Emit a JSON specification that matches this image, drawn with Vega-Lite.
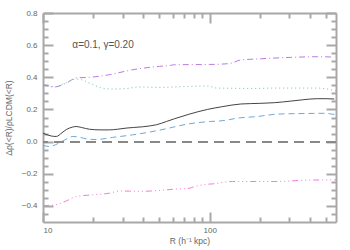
{
  "$schema": "https://vega.github.io/schema/vega-lite/v6.json",
  "width": 293,
  "height": 209,
  "autosize": {"type": "none"},
  "padding": {"left": 43, "top": 13, "right": 14, "bottom": 28},
  "config": {
    "view": {"stroke": null},
    "axis": {"labelFont": "Liberation Sans", "titleFont": "Liberation Sans", "labelFontSize": 8, "titleFontSize": 8.5, "titleFontWeight": "normal", "labelColor": "#666", "titleColor": "#666", "domainColor": "#a8a8a8", "tickColor": "#a8a8a8", "domainWidth": 2, "tickWidth": 2, "grid": false}
  },
  "data": {"values": [
    {"s": "a", "R": 10, "v": 0.053}, {"s": "a", "R": 11.2, "v": 0.035}, {"s": "a", "R": 12, "v": 0.032}, {"s": "a", "R": 13, "v": 0.055}, {"s": "a", "R": 13.8, "v": 0.075}, {"s": "a", "R": 15, "v": 0.09}, {"s": "a", "R": 15.8, "v": 0.094}, {"s": "a", "R": 17, "v": 0.088}, {"s": "a", "R": 19, "v": 0.077}, {"s": "a", "R": 22, "v": 0.073}, {"s": "a", "R": 25, "v": 0.073}, {"s": "a", "R": 28, "v": 0.077}, {"s": "a", "R": 31.5, "v": 0.084}, {"s": "a", "R": 35, "v": 0.088}, {"s": "a", "R": 39.5, "v": 0.092}, {"s": "a", "R": 44, "v": 0.098}, {"s": "a", "R": 48, "v": 0.105}, {"s": "a", "R": 55, "v": 0.125}, {"s": "a", "R": 61.4, "v": 0.142}, {"s": "a", "R": 75, "v": 0.17}, {"s": "a", "R": 96.8, "v": 0.2}, {"s": "a", "R": 120, "v": 0.218}, {"s": "a", "R": 154, "v": 0.234}, {"s": "a", "R": 200, "v": 0.238}, {"s": "a", "R": 244, "v": 0.242}, {"s": "a", "R": 307, "v": 0.252}, {"s": "a", "R": 360, "v": 0.26}, {"s": "a", "R": 442, "v": 0.267}, {"s": "a", "R": 500, "v": 0.267}, {"s": "a", "R": 560, "v": 0.265},
    {"s": "b", "R": 10, "v": -0.024}, {"s": "b", "R": 11, "v": -0.03}, {"s": "b", "R": 12.3, "v": -0.012}, {"s": "b", "R": 13.5, "v": 0.01}, {"s": "b", "R": 15.1, "v": 0.032}, {"s": "b", "R": 16.5, "v": 0.028}, {"s": "b", "R": 18.2, "v": 0.017}, {"s": "b", "R": 20.8, "v": 0.013}, {"s": "b", "R": 26.1, "v": 0.026}, {"s": "b", "R": 34.4, "v": 0.042}, {"s": "b", "R": 43.5, "v": 0.059}, {"s": "b", "R": 54.8, "v": 0.08}, {"s": "b", "R": 73.5, "v": 0.109}, {"s": "b", "R": 100, "v": 0.125}, {"s": "b", "R": 122, "v": 0.131}, {"s": "b", "R": 146.6, "v": 0.146}, {"s": "b", "R": 193, "v": 0.156}, {"s": "b", "R": 254.5, "v": 0.171}, {"s": "b", "R": 385, "v": 0.175}, {"s": "b", "R": 500, "v": 0.176}, {"s": "b", "R": 534, "v": 0.172}, {"s": "b", "R": 573, "v": 0.168},
    {"s": "c", "R": 10, "v": 0.354}, {"s": "c", "R": 11, "v": 0.345}, {"s": "c", "R": 11.7, "v": 0.34}, {"s": "c", "R": 13.8, "v": 0.364}, {"s": "c", "R": 15.8, "v": 0.396}, {"s": "c", "R": 19, "v": 0.4}, {"s": "c", "R": 25, "v": 0.416}, {"s": "c", "R": 34.4, "v": 0.447}, {"s": "c", "R": 49.9, "v": 0.468}, {"s": "c", "R": 58, "v": 0.474}, {"s": "c", "R": 61.4, "v": 0.478}, {"s": "c", "R": 100, "v": 0.48}, {"s": "c", "R": 122, "v": 0.483}, {"s": "c", "R": 134, "v": 0.487}, {"s": "c", "R": 154, "v": 0.508}, {"s": "c", "R": 193, "v": 0.514}, {"s": "c", "R": 307, "v": 0.524}, {"s": "c", "R": 442, "v": 0.528}, {"s": "c", "R": 560, "v": 0.526},
    {"s": "d", "R": 10, "v": 0.354}, {"s": "d", "R": 11.7, "v": 0.34}, {"s": "d", "R": 13.8, "v": 0.368}, {"s": "d", "R": 15.8, "v": 0.389}, {"s": "d", "R": 17, "v": 0.385}, {"s": "d", "R": 19, "v": 0.364}, {"s": "d", "R": 22.7, "v": 0.333}, {"s": "d", "R": 26.1, "v": 0.327}, {"s": "d", "R": 31.5, "v": 0.33}, {"s": "d", "R": 37.9, "v": 0.34}, {"s": "d", "R": 49.9, "v": 0.337}, {"s": "d", "R": 61.4, "v": 0.34}, {"s": "d", "R": 96.8, "v": 0.346}, {"s": "d", "R": 111, "v": 0.333}, {"s": "d", "R": 193, "v": 0.331}, {"s": "d", "R": 244, "v": 0.333}, {"s": "d", "R": 442, "v": 0.333}, {"s": "d", "R": 508, "v": 0.327}, {"s": "d", "R": 560, "v": 0.317}, {"s": "d", "R": 573, "v": 0.314},
    {"s": "e", "R": 10, "v": -0.398}, {"s": "e", "R": 11.7, "v": -0.394}, {"s": "e", "R": 13.8, "v": -0.369}, {"s": "e", "R": 15.8, "v": -0.342}, {"s": "e", "R": 19.8, "v": -0.331}, {"s": "e", "R": 25, "v": -0.321}, {"s": "e", "R": 29, "v": -0.307}, {"s": "e", "R": 33, "v": -0.308}, {"s": "e", "R": 40, "v": -0.309}, {"s": "e", "R": 47.7, "v": -0.305}, {"s": "e", "R": 61.4, "v": -0.296}, {"s": "e", "R": 75.5, "v": -0.29}, {"s": "e", "R": 81, "v": -0.28}, {"s": "e", "R": 96.8, "v": -0.265}, {"s": "e", "R": 104, "v": -0.263}, {"s": "e", "R": 137, "v": -0.248}, {"s": "e", "R": 244, "v": -0.248}, {"s": "e", "R": 385, "v": -0.24}, {"s": "e", "R": 560, "v": -0.238}, {"s": "e", "R": 573, "v": -0.238},
    {"s": "t", "R": 15, "v": 0.6, "label": "α=0.1,  γ=0.20"}
  ]},
  "resolve": {"axis": {"x": "independent", "y": "independent"}},
  "layer": [
    {
      "transform": [{"filter": "datum.s === 'a'"}],
      "mark": {"type": "line", "stroke": "#444", "strokeWidth": 1, "interpolate": "monotone"},
      "encoding": {
        "x": {"field": "R", "type": "quantitative", "scale": {"type": "log", "domain": [10, 573], "nice": false}, "axis": {"orient": "bottom", "values": [10, 100], "format": "d", "ticks": false, "domain": true, "labelPadding": 4, "title": "R (h⁻¹ kpc)", "titlePadding": 2}},
        "y": {"field": "v", "type": "quantitative", "scale": {"domain": [-0.5, 0.8], "nice": false, "zero": false}, "axis": {"orient": "left", "values": [-0.4, -0.2, 0, 0.2, 0.4, 0.6, 0.8], "format": ".1f", "ticks": false, "domain": true, "labelPadding": 6, "title": "Δρ(<R)/ρLCDM(<R)", "titlePadding": 8}}
      }
    },
    {
      "transform": [{"filter": "datum.s === 'b'"}],
      "mark": {"type": "line", "stroke": "#6fa8d6", "strokeWidth": 1, "strokeDash": [6, 4], "interpolate": "monotone"},
      "encoding": {
        "x": {"field": "R", "type": "quantitative", "scale": {"type": "log", "domain": [10, 573], "nice": false}, "axis": {"orient": "bottom", "values": [10, 100], "labels": false, "domain": false, "offset": -10, "tickSize": 10, "title": null}},
        "y": {"field": "v", "type": "quantitative", "scale": {"domain": [-0.5, 0.8], "nice": false, "zero": false}, "axis": {"orient": "left", "values": [-0.4, -0.2, 0, 0.2, 0.4, 0.6, 0.8], "labels": false, "domain": false, "offset": -10, "tickSize": 10, "title": null}}
      }
    },
    {
      "transform": [{"filter": "datum.s === 'c'"}],
      "mark": {"type": "line", "stroke": "#b87ce0", "strokeWidth": 1, "strokeDash": [6, 3, 1, 3], "interpolate": "monotone"},
      "encoding": {
        "x": {"field": "R", "type": "quantitative", "scale": {"type": "log", "domain": [10, 573], "nice": false}, "axis": {"orient": "bottom", "values": [20, 30, 40, 50, 60, 70, 80, 90, 200, 300, 400, 500], "labels": false, "domain": false, "offset": -5, "tickSize": 5, "title": null}},
        "y": {"field": "v", "type": "quantitative", "scale": {"domain": [-0.5, 0.8], "nice": false, "zero": false}, "axis": {"orient": "left", "values": [-0.45, -0.35, -0.3, -0.25, -0.15, -0.1, -0.05, 0.05, 0.1, 0.15, 0.25, 0.3, 0.35, 0.45, 0.5, 0.55, 0.65, 0.7, 0.75], "labels": false, "domain": false, "offset": -5, "tickSize": 5, "title": null}}
      }
    },
    {
      "transform": [{"filter": "datum.s === 'd'"}],
      "mark": {"type": "line", "stroke": "#6cc898", "strokeWidth": 1, "strokeDash": [1, 3], "interpolate": "monotone"},
      "encoding": {
        "x": {"field": "R", "type": "quantitative", "scale": {"type": "log", "domain": [10, 573], "nice": false}, "axis": {"orient": "top", "values": [10, 100], "labels": false, "ticks": false, "domain": true, "title": null}},
        "y": {"field": "v", "type": "quantitative", "scale": {"domain": [-0.5, 0.8], "nice": false, "zero": false}, "axis": {"orient": "right", "values": [0], "labels": false, "ticks": false, "domain": true, "title": null}}
      }
    },
    {
      "transform": [{"filter": "datum.s === 'e'"}],
      "mark": {"type": "line", "stroke": "#f47cd8", "strokeWidth": 1, "strokeDash": [6, 3, 1, 3, 1, 3, 1, 3], "interpolate": "monotone"},
      "encoding": {
        "x": {"field": "R", "type": "quantitative", "scale": {"type": "log", "domain": [10, 573], "nice": false}, "axis": {"orient": "top", "values": [10, 100], "labels": false, "domain": false, "offset": -10, "tickSize": 10, "title": null}},
        "y": {"field": "v", "type": "quantitative", "scale": {"domain": [-0.5, 0.8], "nice": false, "zero": false}, "axis": {"orient": "right", "values": [-0.4, -0.2, 0, 0.2, 0.4, 0.6, 0.8], "labels": false, "domain": false, "offset": -10, "tickSize": 10, "title": null}}
      }
    },
    {
      "transform": [{"filter": "datum.s === 't'"}],
      "mark": {"type": "text", "align": "left", "baseline": "middle", "font": "Liberation Sans", "fontSize": 10, "fill": "#555"},
      "encoding": {
        "x": {"field": "R", "type": "quantitative", "scale": {"type": "log", "domain": [10, 573], "nice": false}, "axis": {"orient": "top", "values": [20, 30, 40, 50, 60, 70, 80, 90, 200, 300, 400, 500], "labels": false, "domain": false, "offset": -5, "tickSize": 5, "title": null}},
        "y": {"field": "v", "type": "quantitative", "scale": {"domain": [-0.5, 0.8], "nice": false, "zero": false}, "axis": {"orient": "right", "values": [-0.45, -0.35, -0.3, -0.25, -0.15, -0.1, -0.05, 0.05, 0.1, 0.15, 0.25, 0.3, 0.35, 0.45, 0.5, 0.55, 0.65, 0.7, 0.75], "labels": false, "domain": false, "offset": -5, "tickSize": 5, "title": null}},
        "text": {"field": "label"}
      }
    },
    {
      "mark": {"type": "rule", "stroke": "#888", "strokeWidth": 1, "strokeDash": [10, 6]},
      "encoding": {"y": {"datum": 0, "type": "quantitative", "axis": null}}
    }
  ]
}
